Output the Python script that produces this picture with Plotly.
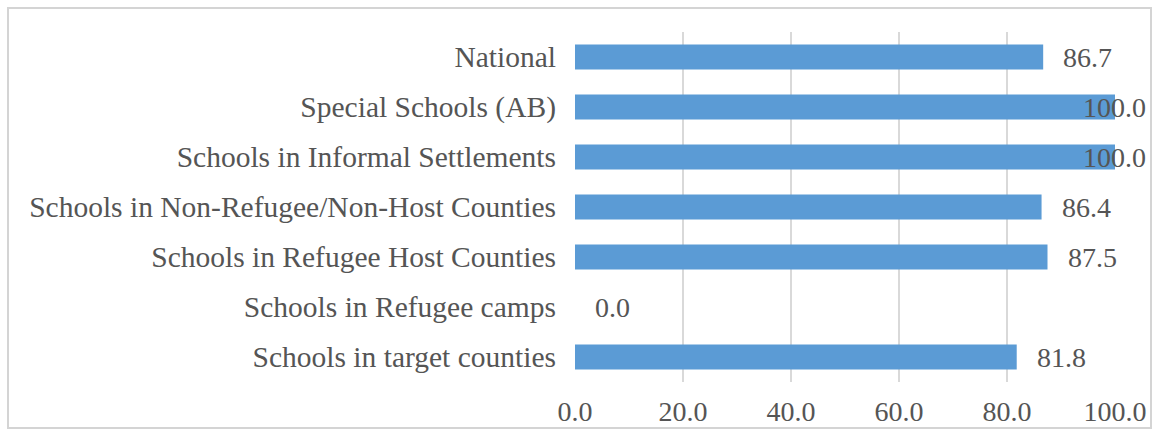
import plotly.graph_objects as go

# Share of schools per group (%), listed top to bottom
categories = [
    "National",
    "Special Schools (AB)",
    "Schools in Informal Settlements",
    "Schools in Non-Refugee/Non-Host Counties",
    "Schools in Refugee Host Counties",
    "Schools in Refugee camps",
    "Schools in target counties",
]
values = [86.7, 100.0, 100.0, 86.4, 87.5, 0.0, 81.8]
x_ticks = [0, 20, 40, 60, 80, 100]
x_tick_labels = ["0.0", "20.0", "40.0", "60.0", "80.0", "100.0"]

FONT = "Liberation Serif, Times New Roman, serif"
TEXT = "#555555"
BAR = "#5b9bd5"
GRID = "#d9d9d9"

W, H = 1152, 434
L, R, T, B = 575, 37, 32, 52

fig = go.Figure(
    go.Bar(
        x=values,
        y=categories,
        orientation="h",
        marker=dict(color=BAR, line=dict(width=0)),
        width=0.5,
        hoverinfo="skip",
    )
)

# value labels beside each bar; labels that would run past the frame are pulled back
annotations = []
for cat, v in zip(categories, values):
    near_end = v >= 95
    annotations.append(
        dict(
            x=v,
            y=cat,
            xref="x",
            yref="y",
            text=f"{v:.1f}",
            showarrow=False,
            xanchor="right" if near_end else "left",
            xshift=33 if near_end else 18,
            font=dict(family=FONT, size=28, color=TEXT),
        )
    )

# light outer frame of the chart
pw, ph = W - L - R, H - T - B
frame = dict(
    type="rect",
    xref="paper",
    yref="paper",
    x0=(8 - L) / pw,
    x1=(1151 - L) / pw,
    y0=(H - B - 428) / ph,
    y1=(H - B - 8) / ph,
    line=dict(color="#d4d4d4", width=2),
    fillcolor="rgba(0,0,0,0)",
    layer="below",
)

fig.update_layout(
    width=W,
    height=H,
    margin=dict(l=L, r=R, t=T, b=B, autoexpand=False),
    paper_bgcolor="white",
    plot_bgcolor="white",
    showlegend=False,
    annotations=annotations,
    shapes=[frame],
    font=dict(family=FONT, color=TEXT),
    xaxis=dict(
        range=[0, 100],
        tickvals=x_ticks,
        ticktext=x_tick_labels,
        showgrid=True,
        gridcolor=GRID,
        gridwidth=2,
        zeroline=False,
        showline=False,
        ticks="",
        ticklabelstandoff=10,
        tickfont=dict(family=FONT, size=28, color=TEXT),
        automargin=False,
        fixedrange=True,
    ),
    yaxis=dict(
        categoryorder="array",
        categoryarray=categories,
        autorange="reversed",
        showgrid=False,
        zeroline=False,
        showline=False,
        ticks="",
        ticklabelstandoff=18,
        tickfont=dict(family=FONT, size=29.5, color=TEXT),
        automargin=False,
        fixedrange=True,
    ),
)

fig.write_html("out.html")
